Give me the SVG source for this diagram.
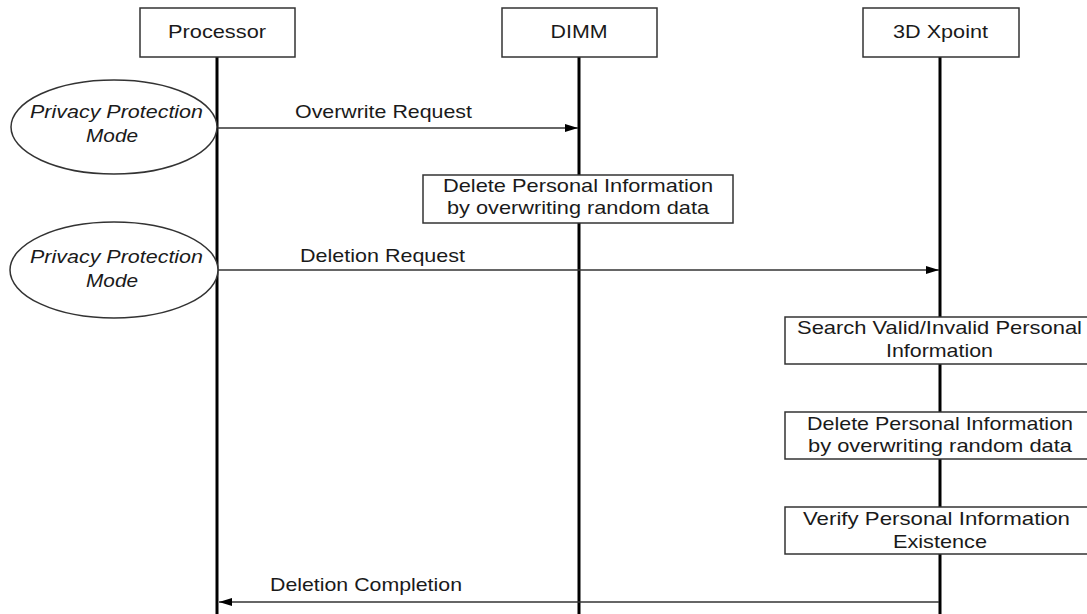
<svg xmlns="http://www.w3.org/2000/svg" width="1087" height="614" viewBox="0 0 1087 614">
<style>
  text { font-family: "Liberation Sans", Arial, sans-serif; font-size: 19px; fill: #1a1a1a; text-anchor: middle; }
  .it { font-style: italic; }
  .box { fill: #fff; stroke: #333; stroke-width: 1.5; }
  .life { stroke: #000; stroke-width: 3; }
  .msg { stroke: #333; stroke-width: 1.5; fill: none; marker-end: url(#ah); }
</style>
<defs>
  <marker id="ah" viewBox="0 0 13 8" refX="13" refY="4" markerWidth="13" markerHeight="8" markerUnits="userSpaceOnUse" orient="auto">
    <path d="M0,0 L13,4 L0,8 Z" fill="#000"/>
  </marker>
</defs>
<rect width="1087" height="614" fill="#fff"/>
<g id="lifelines">
  <line class="life" x1="217" y1="57" x2="217" y2="614"/>
  <line class="life" x1="579" y1="57" x2="579" y2="614"/>
  <line class="life" x1="940" y1="57" x2="940" y2="614"/>
</g>
<g id="processor">
  <rect class="box" x="140" y="8" width="155" height="49"/>
  <text x="217" y="38" textLength="98" lengthAdjust="spacingAndGlyphs">Processor</text>
</g>
<g id="dimm">
  <rect class="box" x="502" y="8" width="155" height="49"/>
  <text x="579" y="38" textLength="57" lengthAdjust="spacingAndGlyphs">DIMM</text>
</g>
<g id="xpoint">
  <rect class="box" x="863" y="8" width="156" height="49"/>
  <text x="940.5" y="38" textLength="95" lengthAdjust="spacingAndGlyphs">3D Xpoint</text>
</g>
<g id="mode1">
  <ellipse class="box" cx="114" cy="127" rx="103" ry="47"/>
  <text class="it" x="116.5" y="118" textLength="173" lengthAdjust="spacingAndGlyphs">Privacy Protection</text>
  <text class="it" x="112" y="142" textLength="52" lengthAdjust="spacingAndGlyphs">Mode</text>
</g>
<g id="mode2">
  <ellipse class="box" cx="114" cy="270" rx="104" ry="48"/>
  <text class="it" x="116.5" y="263" textLength="173" lengthAdjust="spacingAndGlyphs">Privacy Protection</text>
  <text class="it" x="112" y="287" textLength="52" lengthAdjust="spacingAndGlyphs">Mode</text>
</g>
<g id="dimm-delete">
  <rect class="box" x="423" y="175" width="310" height="48"/>
  <text x="578" y="192" textLength="270" lengthAdjust="spacingAndGlyphs">Delete Personal Information</text>
  <text x="578" y="214" textLength="262" lengthAdjust="spacingAndGlyphs">by overwriting random data</text>
</g>
<g id="search">
  <rect class="box" x="785" y="317" width="312" height="47"/>
  <text x="939.5" y="334" textLength="285" lengthAdjust="spacingAndGlyphs">Search Valid/Invalid Personal</text>
  <text x="939.5" y="357" textLength="107" lengthAdjust="spacingAndGlyphs">Information</text>
</g>
<g id="xpoint-delete">
  <rect class="box" x="785" y="412" width="312" height="47"/>
  <text x="940" y="430" textLength="266" lengthAdjust="spacingAndGlyphs">Delete Personal Information</text>
  <text x="940" y="452" textLength="264" lengthAdjust="spacingAndGlyphs">by overwriting random data</text>
</g>
<g id="verify">
  <rect class="box" x="785" y="507" width="312" height="47"/>
  <text x="936.5" y="525" textLength="267" lengthAdjust="spacingAndGlyphs">Verify Personal Information</text>
  <text x="940" y="548" textLength="94" lengthAdjust="spacingAndGlyphs">Existence</text>
</g>
<g id="connectors">
  <line class="msg" x1="218" y1="128" x2="578" y2="128"/>
  <text x="383.5" y="118" textLength="177" lengthAdjust="spacingAndGlyphs">Overwrite Request</text>
  <line class="msg" x1="218" y1="270" x2="939" y2="270"/>
  <text x="382.5" y="262" textLength="165" lengthAdjust="spacingAndGlyphs">Deletion Request</text>
  <line class="msg" x1="939" y1="602" x2="219" y2="602"/>
  <text x="366" y="591" textLength="192" lengthAdjust="spacingAndGlyphs">Deletion Completion</text>
</g>
</svg>
